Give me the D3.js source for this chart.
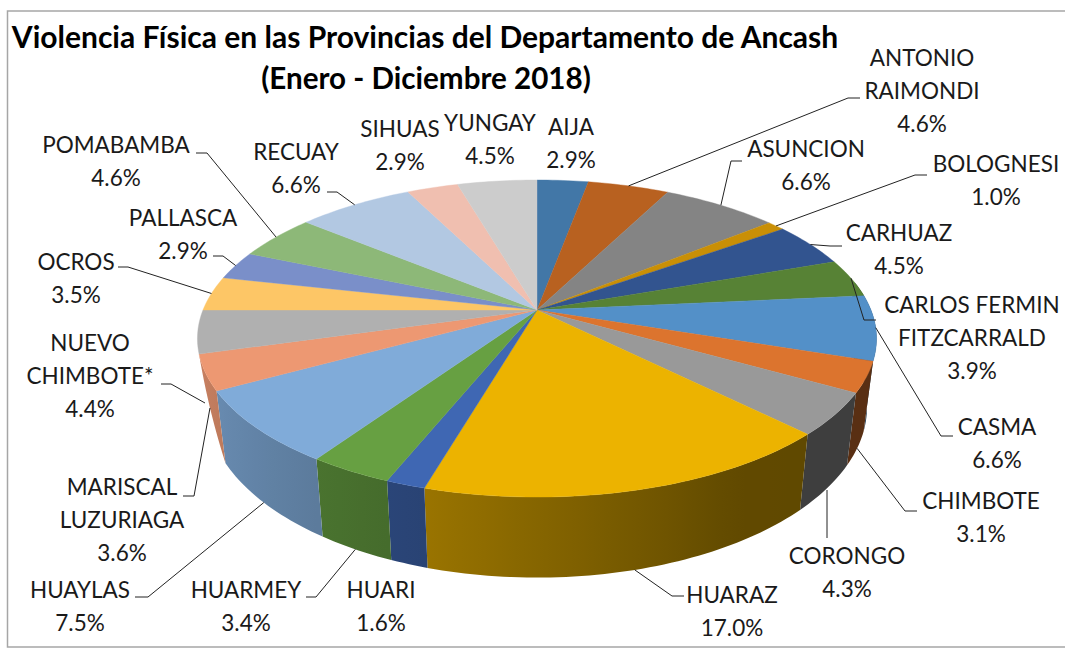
<!DOCTYPE html>
<html><head><meta charset="utf-8">
<script src="https://cdn.jsdelivr.net/npm/d3@7/dist/d3.min.js"></script>
<style>html,body{margin:0;background:#fff}svg{display:block}text{font-family:Lato,"Noto Sans",sans-serif;fill:#1a1a1a}</style>
</head><body><svg id="c" width="1065" height="653"></svg>
<script>
const titleLines = ["Violencia Física en las Provincias del Departamento de Ancash","(Enero - Diciembre 2018)"];
const provinces = ["AIJA","ANTONIO RAIMONDI","ASUNCION","BOLOGNESI","CARHUAZ","CARLOS FERMIN FITZCARRALD","CASMA","CHIMBOTE","CORONGO","HUARAZ","HUARI","HUARMEY","HUAYLAS","MARISCAL LUZURIAGA","NUEVO CHIMBOTE*","OCROS","PALLASCA","POMABAMBA","RECUAY","SIHUAS","YUNGAY"];
const percents = [2.9,4.6,6.6,1.0,4.5,3.9,6.6,3.1,4.3,17.0,1.6,3.4,7.5,3.6,4.4,3.5,2.9,4.6,6.6,2.9,4.5];
const sliceColors = ["#4277a7","#b86120","#848484","#c98f06","#32548f","#578235","#5390c8","#dc742e","#999999","#ecb300","#3f67b3","#67a042","#80abd9","#ed9872","#b0b0b0","#fdc666","#7a8fc9","#8db878","#b2c8e2","#f0bfb0","#cccccc"];

// label layout: text centre x, first-line baseline y, lines, leader elbow
const labelLayout = [
 {x:571,y:135,lines:["AIJA","2.9%"]},
 {x:922,y:66,lines:["ANTONIO","RAIMONDI","4.6%"],elbow:[848,98],end:[860,98]},
 {x:806,y:157,lines:["ASUNCION","6.6%"],elbow:[731,161],end:[742,161]},
 {x:996,y:172,lines:["BOLOGNESI","1.0%"],elbow:[915,175],end:[927,175]},
 {x:899,y:241,lines:["CARHUAZ","4.5%"],elbow:[830,246],end:[842,246]},
 {x:972,y:313,lines:["CARLOS FERMIN","FITZCARRALD","3.9%"],elbow:[864,320],end:[876,320]},
 {x:997,y:435,lines:["CASMA","6.6%"],elbow:[941,436],end:[953,436]},
 {x:981,y:509,lines:["CHIMBOTE","3.1%"],elbow:[905,511],end:[917,511]},
 {x:847,y:564,lines:["CORONGO","4.3%"],tip:[827,490],end:[827,538]},
 {x:732,y:603,lines:["HUARAZ","17.0%"],elbow:[672,596],end:[684,596]},
 {x:381,y:598,lines:["HUARI","1.6%"]},
 {x:246,y:598,lines:["HUARMEY","3.4%"],elbow:[316,597],end:[306,597]},
 {x:80,y:598,lines:["HUAYLAS","7.5%"],elbow:[148,597],end:[135,597]},
 {x:122,y:495,lines:["MARISCAL","LUZURIAGA","3.6%"],elbow:[194,496],end:[183,496]},
 {x:90,y:351,lines:["NUEVO","CHIMBOTE*","4.4%"],tip:[205,403],elbow:[171,384],end:[161,384]},
 {x:76,y:270,lines:["OCROS","3.5%"],elbow:[128,267],end:[118,267]},
 {x:183,y:226,lines:["PALLASCA","2.9%"],elbow:[223,256],end:[213,256]},
 {x:116,y:153,lines:["POMABAMBA","4.6%"],elbow:[207,153],end:[196,153]},
 {x:296,y:160,lines:["RECUAY","6.6%"],elbow:[337,192],end:[327,192]},
 {x:400,y:137,lines:["SIHUAS","2.9%"]},
 {x:490,y:131,lines:["YUNGAY","4.5%"]}
];

const cx=537,cy=310,c=334,a=153.4,b=0.18,d=66,baseScale=0.972;
const svg=d3.select("#c");
const defs=svg.append("defs");
svg.append("rect").attr("x",7.5).attr("y",11).attr("width",1070).attr("height",636).attr("fill","#fff").attr("stroke","#a6a6a6").attr("stroke-width",1.5);

const pie=d3.pie().value(v=>v).sort(null).startAngle(0).endAngle(2*Math.PI);
const arcs=pie(percents);
const topPt=t=>{const X=Math.sin(t),Y=-Math.cos(t),k=1/(1-b*Y);return [cx+c*X*k,cy+a*Y*k];};
const botPt=t=>{const Y=-Math.cos(t),k=1/(1-b*Y),p=topPt(t);return [cx+(p[0]-cx)*baseScale,p[1]+d*k];};
const shade=d3.scaleLinear().domain([90,150,196,225,260,275]).range([.4,.41,.65,.76,.87,.87]).clamp(true);
const samples=(s,e,step=0.02)=>{const n=Math.max(2,Math.ceil((e-s)/step));return d3.range(n+1).map(i=>s+(e-s)*i/n);};
const line=d3.line();
// the wall tapers away where the rim turns out of sight on the left
const wallEnd=arcs[13].endAngle;
const taper=d3.scaleLinear().domain([arcs[13].startAngle,wallEnd]).range([1,0]).clamp(true);
const wallPt=t=>{const p=topPt(t),q=botPt(t),f=taper(t);return [p[0]+(q[0]-p[0])*f,p[1]+(q[1]-p[1])*f];};

// visible side walls (front half only)
const sideG=svg.append("g");
arcs.forEach((o,i)=>{
  const s=Math.max(o.startAngle,Math.PI*0.44),e=Math.min(o.endAngle,wallEnd);
  if(e<=s) return;
  const ts=samples(s,e);
  const x0=topPt(s)[0],x1=topPt(e)[0];
  const id="g"+i;
  const g=defs.append("linearGradient").attr("id",id).attr("gradientUnits","userSpaceOnUse").attr("x1",x0).attr("x2",x1===x0?x0+1:x1).attr("y1",0).attr("y2",0);
  samples(s,e,0.08).forEach(t=>{
    const base=d3.rgb(sliceColors[i]),m=shade(t*180/Math.PI);
    g.append("stop").attr("offset",(topPt(t)[0]-x0)/((x1-x0)||1)).attr("stop-color",d3.rgb(base.r*m,base.g*m,base.b*m).formatHex());
  });
  sideG.append("path").attr("d",line(ts.map(topPt).concat(ts.slice().reverse().map(wallPt)))+"Z").attr("fill",`url(#${id})`);
});

// top faces
svg.append("g").selectAll("path").data(arcs).join("path")
  .attr("d",o=>line([[cx,cy]].concat(samples(o.startAngle,o.endAngle).map(topPt)))+"Z")
  .attr("fill",(o,i)=>sliceColors[i]).attr("stroke",(o,i)=>sliceColors[i]).attr("stroke-width",.4);

// leaders
const front=t=>{const deg=t*180/Math.PI;return deg>100&&deg<262;};
const leaders=svg.append("g").attr("fill","none").attr("stroke","#222").attr("stroke-width",1);
arcs.forEach((o,i)=>{
  const l=labelLayout[i]; if(!l.end) return;
  const mid=(o.startAngle+o.endAngle)/2;
  const p=l.tip||(front(mid)?wallPt(mid):topPt(mid));
  const pts=[p];
  if(l.elbow) pts.push(l.elbow);
  pts.push(l.end);
  leaders.append("path").attr("d",line(pts));
});

// labels
const lab=svg.append("g").attr("text-anchor","middle").attr("font-size",22.5);
labelLayout.forEach(l=>{
  l.lines.forEach((t,j)=>lab.append("text").attr("x",l.x).attr("y",l.y+j*33).text(t));
});
// title
titleLines.forEach((t,i)=>svg.append("text").attr("x",i?426:425).attr("y",48+i*41).attr("text-anchor","middle").attr("font-size",i?29.6:30).attr("font-weight",700).style("fill","#000").text(t));
</script></body></html>
